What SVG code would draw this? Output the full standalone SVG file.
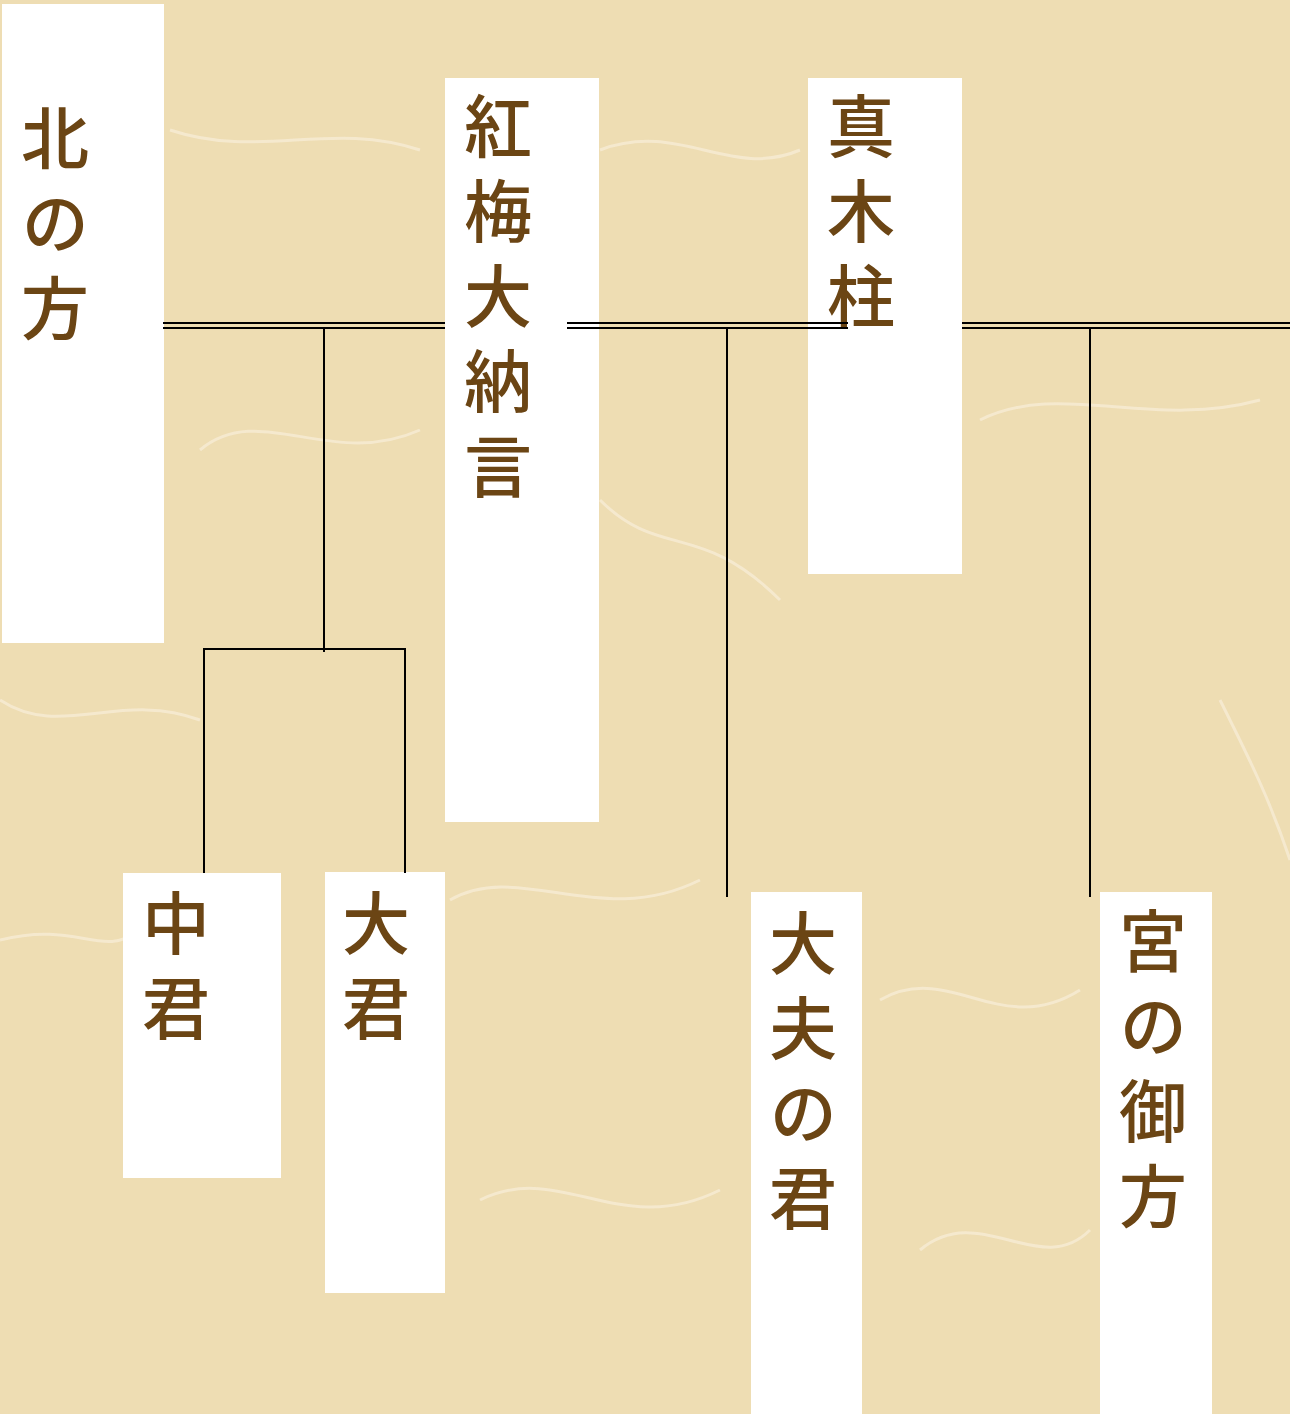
<svg xmlns="http://www.w3.org/2000/svg" width="1290" height="1414" viewBox="0 0 1290 1414">
<style>
.box{fill:#ffffff}
.lbl{font-family:"Noto Sans CJK JP","Noto Sans CJK SC",sans-serif;font-size:68px;font-weight:500;fill:#6B4514;writing-mode:vertical-rl;letter-spacing:17px}
.ln{stroke:#000;stroke-width:2;fill:none}
.fiber{stroke:#fbf3e4;stroke-width:3;fill:none;opacity:0.55}
</style>
<rect x="0" y="0" width="1290" height="1414" fill="#EEDDB3"/>
<g id="texture">
<path class="fiber" d="M170 130 C260 160 330 120 420 150"/>
<path class="fiber" d="M600 150 C680 120 730 180 800 150"/>
<path class="fiber" d="M980 420 C1060 380 1150 430 1260 400"/>
<path class="fiber" d="M0 700 C60 740 120 690 200 720"/>
<path class="fiber" d="M450 900 C520 860 600 930 700 880"/>
<path class="fiber" d="M600 500 C660 560 700 520 780 600"/>
<path class="fiber" d="M880 1000 C950 960 1000 1040 1080 990"/>
<path class="fiber" d="M0 940 C80 920 100 960 140 930"/>
<path class="fiber" d="M480 1200 C560 1160 620 1240 720 1190"/>
<path class="fiber" d="M920 1250 C980 1200 1040 1280 1090 1230"/>
<path class="fiber" d="M1220 700 C1250 760 1270 800 1290 860"/>
<path class="fiber" d="M200 450 C260 400 330 470 420 430"/>
</g>
<g id="n-kitanokata">
<rect class="box" x="2" y="4" width="162" height="639"/>
<text class="lbl" x="55" y="104">北の方</text>
</g>
<g id="n-kobai">
<rect class="box" x="445" y="78" width="154" height="744"/>
<text class="lbl" x="498" y="92">紅梅大納言</text>
</g>
<g id="n-makibashira">
<rect class="box" x="808" y="78" width="154" height="496"/>
<text class="lbl" x="861" y="92">真木柱</text>
</g>
<g id="n-nakanokimi">
<rect class="box" x="123" y="873" width="158" height="305"/>
<text class="lbl" x="176" y="889">中君</text>
</g>
<g id="n-oigimi">
<rect class="box" x="325" y="872" width="120" height="421"/>
<text class="lbl" x="376" y="889">大君</text>
</g>
<g id="n-taifunokimi">
<rect class="box" x="751" y="892" width="111" height="522"/>
<text class="lbl" x="803" y="909">大夫の君</text>
</g>
<g id="n-miyanoonkata">
<rect class="box" x="1100" y="892" width="112" height="522"/>
<text class="lbl" x="1153" y="907">宮の御方</text>
</g>
<g id="connectors">
<line class="ln" x1="163" y1="323" x2="445" y2="323"/>
<line class="ln" x1="163" y1="328" x2="445" y2="328"/>
<line class="ln" x1="567" y1="323" x2="848" y2="323"/>
<line class="ln" x1="567" y1="328" x2="848" y2="328"/>
<line class="ln" x1="962" y1="323" x2="1290" y2="323"/>
<line class="ln" x1="962" y1="328" x2="1290" y2="328"/>
<line class="ln" x1="324" y1="328" x2="324" y2="652"/>
<polyline class="ln" points="204,873 204,649 405,649 405,873"/>
<line class="ln" x1="727" y1="328" x2="727" y2="897"/>
<line class="ln" x1="1090" y1="328" x2="1090" y2="897"/>
</g>
</svg>
